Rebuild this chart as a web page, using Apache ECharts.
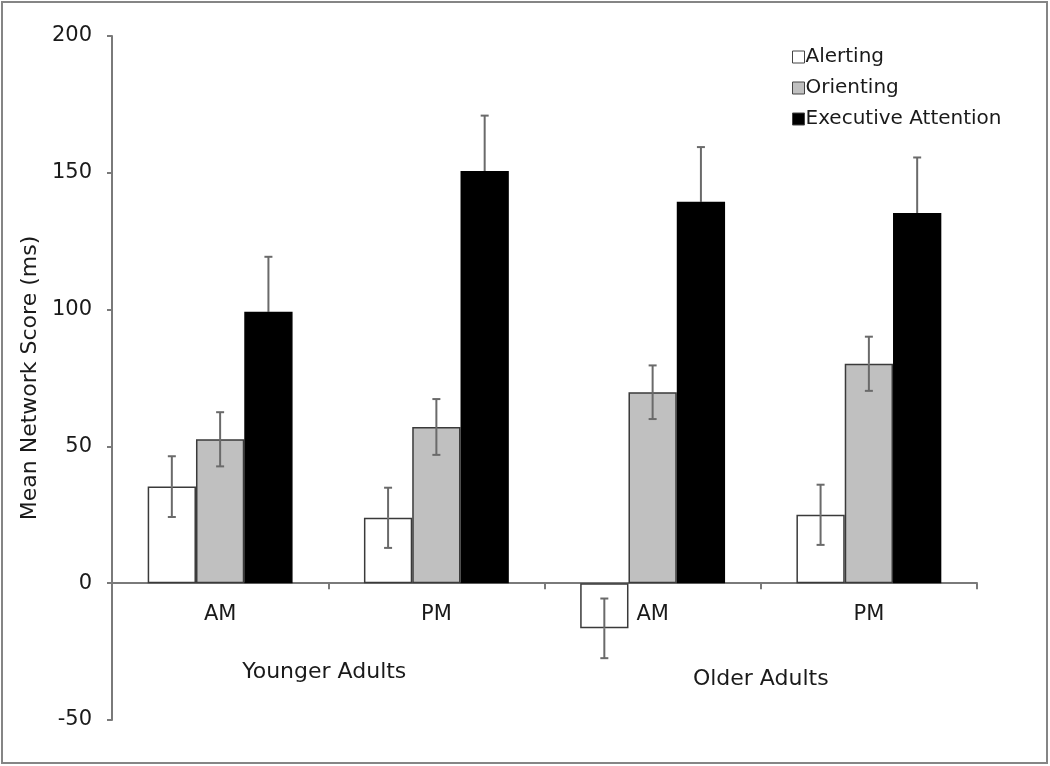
<!DOCTYPE html>
<html>
<head>
<meta charset="utf-8">
<script src="https://cdn.jsdelivr.net/npm/echarts@6/dist/echarts.min.js"></script>
<style>
html,body{margin:0;padding:0;background:#fff;}
#frame{position:absolute;left:1px;top:1px;width:1047px;height:763px;box-sizing:border-box;border:2px solid #858585;}
#chart{position:absolute;left:0;top:0;width:1050px;height:766px;}
</style>
</head>
<body>
<div id="frame"></div>
<div id="chart"></div>
<script>
const categories = ['AM', 'PM', 'AM', 'PM'];
const groups = ['Younger Adults', 'Older Adults'];
const yTicks = [-50, 0, 50, 100, 150, 200];
const seriesNames = ['Alerting', 'Orienting', 'Executive Attention'];
const alerting = [35.3, 23.9, -16.5, 25.0];
const alertingErr = [11.1, 11.0, 10.9, 11.0];
const orienting = [52.6, 57.1, 69.8, 80.2];
const orientingErr = [9.9, 10.2, 9.8, 9.9];
const executive = [99.2, 150.7, 139.4, 135.3];
const executiveErr = [20.1, 20.2, 20.0, 20.3];

const values = [alerting, orienting, executive];
const errors = [alertingErr, orientingErr, executiveErr];
const fills = ['#ffffff', '#c0c0c0', '#000000'];
const borders = ['#3a3a3a', '#3a3a3a', '#000000'];
const FONT = 'DejaVu Sans';
const GAP = 0.33;

const chart = echarts.init(document.getElementById('chart'), null, {renderer: 'canvas'});

const series = [];
values.forEach((vals, k) => {
  series.push({
    name: seriesNames[k],
    type: 'bar',
    data: vals,
    barGap: '0%',
    barCategoryGap: (GAP * 100) + '%',
    itemStyle: {color: fills[k], borderColor: borders[k], borderWidth: 1.5},
    z: 2
  });
});
values.forEach((vals, k) => {
  series.push({
    type: 'custom',
    silent: true,
    z: 5,
    data: vals.map((v, i) => [i, v - errors[k][i], v + errors[k][i], v]),
    renderItem: function (params, api) {
      const idx = api.value(0);
      const lo = api.coord([idx, api.value(1)]);
      const hi = api.coord([idx, api.value(2)]);
      const mid = api.coord([idx, api.value(3)]);
      const band = api.size([1, 0])[0];
      const barW = band * (1 - GAP) / 3;
      const x = lo[0] + (k - 1) * barW;
      const cap = 4;
      const grey = {stroke: '#6a6a6a', lineWidth: 2};
      const lowerStyle = k === 2 ? {stroke: '#000', lineWidth: 2} : grey;
      return {
        type: 'group',
        children: [
          {type: 'line', shape: {x1: x, y1: mid[1], x2: x, y2: hi[1]}, style: grey},
          {type: 'line', shape: {x1: x - cap, y1: hi[1], x2: x + cap, y2: hi[1]}, style: grey},
          {type: 'line', shape: {x1: x, y1: mid[1], x2: x, y2: lo[1]}, style: lowerStyle},
          {type: 'line', shape: {x1: x - cap, y1: lo[1], x2: x + cap, y2: lo[1]}, style: lowerStyle}
        ]
      };
    }
  });
});

chart.setOption({
  animation: false,
  backgroundColor: 'transparent',
  textStyle: {fontFamily: FONT},
  grid: {left: 112, right: 73, top: 36, bottom: 46, containLabel: false, outerBoundsMode: 'none'},
  legend: {
    orient: 'vertical',
    left: 787,
    top: 42,
    itemWidth: 12,
    itemHeight: 12,
    itemGap: 11,
    icon: 'rect',
    data: seriesNames.map((n, k) => ({name: n, itemStyle: {color: fills[k], borderColor: '#444', borderWidth: 1}})),
    textStyle: {fontFamily: FONT, fontSize: 20, color: '#1a1a1a', padding: [0, 0, 0, -4]}
  },
  xAxis: [
    {
      type: 'category',
      data: categories,
      axisLine: {onZero: true, lineStyle: {color: '#7a7a7a', width: 2}},
      axisTick: {show: true, length: 6, inside: false, lineStyle: {color: '#7a7a7a', width: 2}},
      axisLabel: {fontFamily: FONT, fontSize: 21, color: '#1a1a1a', margin: -116},
      splitLine: {show: false}
    },
    {
      type: 'category',
      data: groups,
      position: 'bottom',
      axisLine: {show: false, onZero: false},
      axisTick: {show: false},
      axisLabel: {
        fontFamily: FONT, fontSize: 22, color: '#1a1a1a', margin: -59,
        formatter: function (v, i) { return i === 0 ? '{a|' + v + '}' : '{b|' + v + '}'; },
        rich: {
          a: {fontFamily: FONT, fontSize: 22, color: '#1a1a1a', padding: [0, 8, 0, 0]},
          b: {fontFamily: FONT, fontSize: 22, color: '#1a1a1a', padding: [7, 0, 0, 0]}
        }
      },
      splitLine: {show: false}
    }
  ],
  yAxis: {
    type: 'value',
    min: yTicks[0],
    max: yTicks[yTicks.length - 1],
    interval: 50,
    name: 'Mean Network Score (ms)',
    nameLocation: 'middle',
    nameGap: 70,
    nameRotate: 90,
    nameTextStyle: {fontFamily: FONT, fontSize: 22, color: '#1a1a1a'},
    axisLine: {show: true, lineStyle: {color: '#7a7a7a', width: 2}},
    axisTick: {show: true, length: 5, lineStyle: {color: '#7a7a7a', width: 2}},
    axisLabel: {fontFamily: FONT, fontSize: 21, color: '#1a1a1a', margin: 20},
    splitLine: {show: false}
  },
  series: series
});
</script>
</body>
</html>
